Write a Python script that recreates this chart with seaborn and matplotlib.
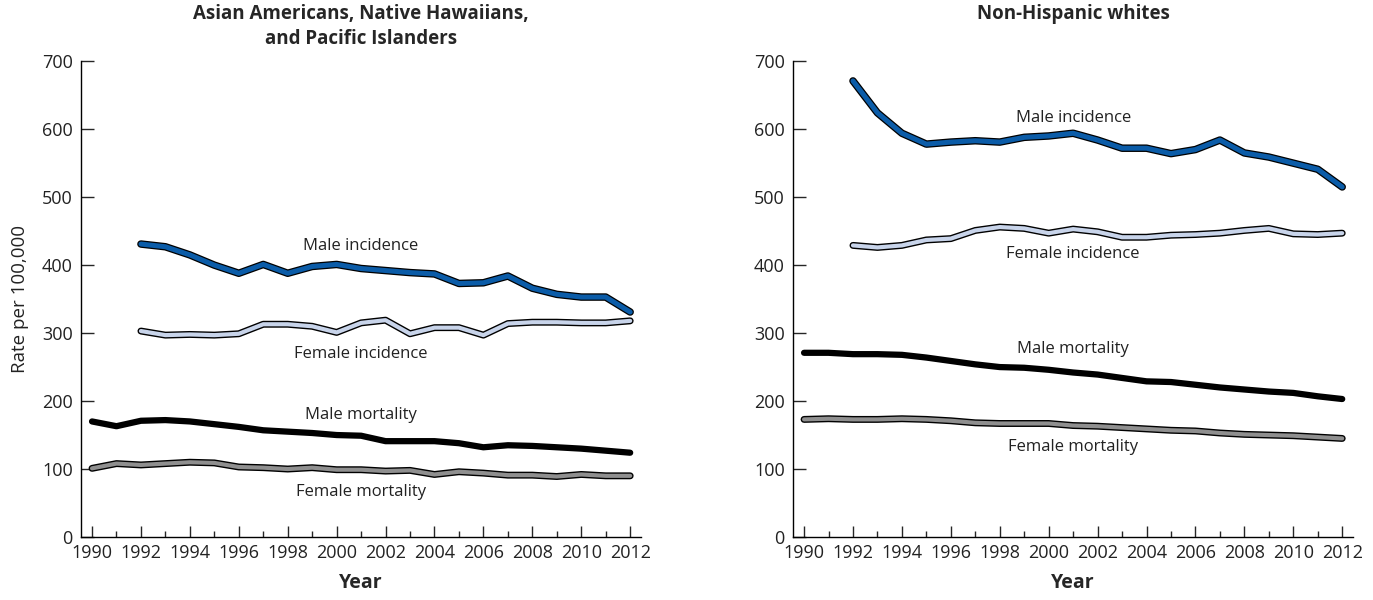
import numpy as np
import pandas as pd
import seaborn as sns
import matplotlib.pyplot as plt
import matplotlib.patheffects as pe
from matplotlib.ticker import MultipleLocator

sns.set_style("white")
plt.rcParams['font.family'] = ['Open Sans', 'DejaVu Sans']

years_mort = list(range(1990, 2013))
years_inc = list(range(1992, 2013))

# Asian Americans, Native Hawaiians, and Pacific Islanders
api_male_inc = [431, 427, 415, 400, 388, 401, 388, 398, 401, 395, 392, 389, 387,
                373, 374, 384, 366, 357, 353, 353, 331]
api_female_inc = [303, 297, 298, 297, 299, 313, 313, 310, 301, 315, 319, 299, 308,
                  308, 297, 314, 316, 316, 315, 315, 318]
api_male_mort = [170, 163, 171, 172, 170, 166, 162, 157, 155, 153, 150, 149, 141,
                 141, 141, 138, 132, 135, 134, 132, 130, 127, 124]
api_female_mort = [101, 108, 106, 108, 110, 109, 103, 102, 100, 102, 99, 99, 97,
                   98, 92, 96, 94, 91, 91, 89, 92, 90, 90]

# Non-Hispanic whites
nhw_male_inc = [671, 624, 594, 578, 581, 583, 581, 588, 590, 594, 584, 572, 572,
                564, 570, 584, 565, 559, 550, 541, 515]
nhw_female_inc = [429, 426, 429, 437, 439, 451, 456, 454, 447, 453, 449, 441, 441,
                  444, 445, 447, 451, 454, 446, 445, 447]
nhw_male_mort = [271, 271, 269, 269, 268, 264, 259, 254, 250, 249, 246, 242, 239,
                 234, 229, 228, 224, 220, 217, 214, 212, 207, 203]
nhw_female_mort = [173, 174, 173, 173, 174, 173, 171, 168, 167, 167, 167, 164, 163,
                   161, 159, 157, 156, 153, 151, 150, 149, 147, 145]

panels = [
    ("Asian Americans, Native Hawaiians,\nand Pacific Islanders",
     api_male_inc, api_female_inc, api_male_mort, api_female_mort,
     [428, 269, 179, 66]),
    ("Non-Hispanic whites",
     nhw_male_inc, nhw_female_inc, nhw_male_mort, nhw_female_mort,
     [616, 416, 276, 132]),
]
labels = ["Male incidence", "Female incidence", "Male mortality", "Female mortality"]

fig = plt.figure(figsize=(13.73, 6), dpi=100)
ax_left = fig.add_axes([0.059, 0.105, 0.408, 0.793])
ax_right = fig.add_axes([0.5776, 0.105, 0.408, 0.793])

for ax, (title, m_inc, f_inc, m_mort, f_mort, label_y) in zip([ax_left, ax_right], panels):
    # outlined lines: black stroke underneath the coloured one
    sns.lineplot(x=years_mort, y=f_mort, ax=ax, color="#8f8f8f", lw=3.0,
                 path_effects=[pe.Stroke(linewidth=5.0, foreground="black"), pe.Normal()])
    sns.lineplot(x=years_mort, y=m_mort, ax=ax, color="black", lw=4.5)
    sns.lineplot(x=years_inc, y=f_inc, ax=ax, color="#c8d4ea", lw=3.0,
                 path_effects=[pe.Stroke(linewidth=5.0, foreground="black"), pe.Normal()])
    sns.lineplot(x=years_inc, y=m_inc, ax=ax, color="#0b5ca8", lw=3.6,
                 path_effects=[pe.Stroke(linewidth=5.4, foreground="black"), pe.Normal()])

    for lab, ly in zip(labels, label_y):
        ax.text(2001, ly, lab, ha="center", va="center", fontsize=12, color="#222222")

    ax.set_xlim(1989.55, 2012.45)
    ax.set_ylim(0, 700)
    ax.xaxis.set_major_locator(MultipleLocator(2))
    ax.xaxis.set_minor_locator(MultipleLocator(1))
    ax.yaxis.set_major_locator(MultipleLocator(100))
    ax.tick_params(axis="x", which="major", direction="in", length=8, width=1,
                   labelsize=13, pad=5, labelcolor="#222222")
    ax.tick_params(axis="x", which="minor", direction="in", length=4, width=1)
    ax.tick_params(axis="y", which="major", direction="in", length=9, width=1,
                   labelsize=13, pad=6, labelcolor="#222222")
    ax.tick_params(bottom=True, left=True, which="both")
    sns.despine(ax=ax)
    for sp in ["left", "bottom"]:
        ax.spines[sp].set_color("black")
        ax.spines[sp].set_linewidth(1)
    ax.set_xlabel("Year", fontsize=14, fontweight="bold", labelpad=8)
    ax.set_title(title, fontsize=13.5, fontweight="bold", y=1.12, va="top",
                 pad=0, linespacing=1.35)

ax_left.set_ylabel("Rate per 100,000", fontsize=13.5, labelpad=9, color="#222222")
ax_right.set_ylabel("")

fig.savefig("out.png", dpi=100)
